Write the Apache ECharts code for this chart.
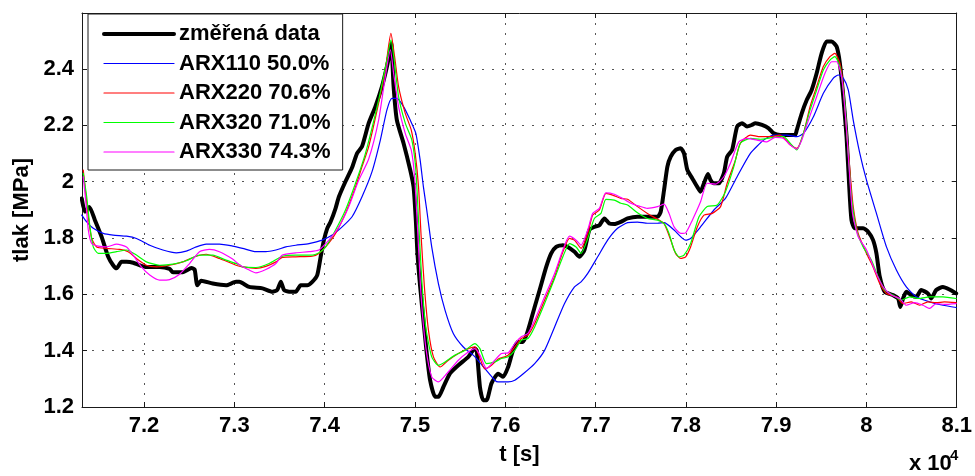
<!DOCTYPE html>
<html>
<head>
<meta charset="utf-8">
<script src="https://cdn.jsdelivr.net/npm/echarts@6/dist/echarts.min.js"></script>
<style>
  html, body { margin: 0; padding: 0; background: #fff; }
  #chart { width: 975px; height: 476px; }
</style>
</head>
<body>
<div id="chart"></div>
<script>
// Time axis in seconds, pressure in MPa
const T_MIN = 71313;
const T_MAX = 81000;
const P_MIN = 1.2;
const P_MAX = 2.598;

const xTicks = [72000, 73000, 74000, 75000, 76000, 77000, 78000, 79000, 80000, 81000];
const yTicks = [1.2, 1.4, 1.6, 1.8, 2.0, 2.2, 2.4];

const seriesNames = ['změřená data', 'ARX110 50.0%', 'ARX220 70.6%', 'ARX320 71.0%', 'ARX330 74.3%'];

// measured pressure
const measured = [
  [71310,1.940],[71346,1.893],[71394,1.910],[71456,1.863],[71530,1.804],[71603,1.733],[71658,1.703],
  [71696,1.692],[71751,1.715],[71806,1.715],[71879,1.712],[71953,1.703],[72026,1.697],[72173,1.697],
  [72283,1.690],[72320,1.678],[72430,1.678],[72526,1.693],[72560,1.688],[72590,1.632],[72633,1.648],
  [72761,1.638],[72908,1.632],[73019,1.644],[73055,1.644],[73165,1.626],[73312,1.621],[73422,1.609],
  [73474,1.615],[73515,1.644],[73551,1.615],[73606,1.609],[73680,1.609],[73735,1.632],[73808,1.632],
  [73863,1.644],[73918,1.668],[73956,1.733],[73992,1.792],[74029,1.834],[74066,1.857],[74121,1.905],
  [74158,1.946],[74231,2.000],[74304,2.050],[74359,2.100],[74414,2.124],[74488,2.207],[74562,2.266],
  [74635,2.337],[74690,2.408],[74728,2.470],[74738,2.490],[74764,2.337],[74800,2.218],[74874,2.136],
  [74948,2.041],[74985,1.981],[75010,1.863],[75028,1.745],[75058,1.626],[75094,1.508],[75131,1.390],
  [75168,1.295],[75224,1.236],[75260,1.236],[75315,1.271],[75389,1.319],[75481,1.348],[75591,1.378],
  [75665,1.407],[75685,1.400],[75720,1.271],[75756,1.224],[75793,1.224],[75848,1.284],[75922,1.318],
  [75977,1.307],[76032,1.342],[76087,1.401],[76142,1.431],[76197,1.431],[76252,1.472],[76326,1.555],
  [76381,1.615],[76454,1.697],[76509,1.745],[76564,1.768],[76638,1.774],[76693,1.768],[76767,1.751],
  [76822,1.733],[76877,1.757],[76932,1.828],[76987,1.839],[77043,1.845],[77098,1.869],[77153,1.851],
  [77208,1.849],[77281,1.857],[77355,1.869],[77465,1.875],[77575,1.875],[77686,1.875],[77722,1.893],
  [77759,1.970],[77796,2.053],[77833,2.088],[77887,2.112],[77943,2.118],[77980,2.100],[78017,2.041],
  [78072,2.011],[78127,1.981],[78163,1.964],[78201,1.994],[78245,2.027],[78274,2.005],[78311,1.994],
  [78366,1.994],[78421,2.029],[78458,2.088],[78513,2.112],[78568,2.195],[78623,2.207],[78678,2.195],
  [78733,2.201],[78770,2.207],[78844,2.201],[78918,2.189],[78973,2.171],[79045,2.165],[79155,2.165],
  [79210,2.165],[79229,2.183],[79284,2.242],[79339,2.289],[79394,2.325],[79449,2.384],[79504,2.455],
  [79560,2.497],[79615,2.497],[79670,2.479],[79706,2.420],[79744,2.301],[79780,2.159],[79810,1.981],
  [79835,1.863],[79872,1.834],[79964,1.834],[80019,1.822],[80074,1.792],[80111,1.745],[80148,1.662],
  [80203,1.609],[80295,1.597],[80351,1.585],[80376,1.555],[80406,1.585],[80442,1.609],[80497,1.597],
  [80552,1.591],[80607,1.615],[80681,1.603],[80718,1.585],[80773,1.615],[80847,1.626],[80920,1.617],
  [80994,1.603]
];

// ARX110 model output
const arx110 = [
  [71310,1.881],[71365,1.857],[71438,1.834],[71548,1.816],[71658,1.810],[71806,1.806],[71916,1.798],
  [72063,1.774],[72209,1.757],[72357,1.747],[72467,1.753],[72578,1.768],[72688,1.778],[72835,1.778],
  [72981,1.771],[73091,1.763],[73239,1.751],[73349,1.751],[73460,1.757],[73570,1.768],[73680,1.774],
  [73827,1.780],[73973,1.792],[74084,1.810],[74194,1.839],[74304,1.875],[74414,1.946],[74525,2.035],
  [74617,2.147],[74690,2.254],[74745,2.295],[74800,2.295],[74874,2.266],[74948,2.218],[75010,2.171],
  [75058,2.076],[75094,1.981],[75131,1.899],[75186,1.768],[75260,1.638],[75334,1.543],[75425,1.461],
  [75536,1.413],[75665,1.378],[75775,1.336],[75885,1.295],[75922,1.289],[76032,1.289],[76106,1.295],
  [76200,1.318],[76326,1.354],[76436,1.401],[76547,1.484],[76657,1.567],[76767,1.626],[76840,1.644],
  [76914,1.674],[77024,1.733],[77134,1.792],[77244,1.834],[77355,1.854],[77465,1.856],[77575,1.852],
  [77686,1.852],[77759,1.854],[77870,1.828],[77998,1.792],[78053,1.798],[78163,1.839],[78311,1.899],
  [78439,1.940],[78568,2.017],[78715,2.100],[78862,2.147],[78973,2.165],[79119,2.165],[79229,2.159],
  [79303,2.171],[79413,2.230],[79523,2.313],[79634,2.367],[79689,2.378],[79744,2.367],[79799,2.325],
  [79854,2.218],[79927,2.100],[80001,2.005],[80111,1.887],[80222,1.768],[80332,1.686],[80442,1.626],
  [80552,1.591],[80700,1.573],[80847,1.561],[80994,1.553]
];

// ARX220 model output
const arx220 = [
  [71327,2.041],[71346,1.981],[71383,1.875],[71420,1.798],[71475,1.768],[71585,1.763],[71732,1.759],
  [71824,1.751],[71916,1.727],[72026,1.703],[72137,1.697],[72283,1.703],[72430,1.715],[72578,1.735],
  [72688,1.742],[72835,1.727],[73019,1.703],[73091,1.697],[73239,1.692],[73349,1.699],[73460,1.715],
  [73532,1.731],[73680,1.733],[73863,1.735],[73936,1.745],[74011,1.768],[74121,1.816],[74231,1.887],
  [74342,1.981],[74414,2.053],[74488,2.124],[74598,2.278],[74672,2.396],[74734,2.526],[74775,2.443],
  [74819,2.337],[74893,2.242],[74959,2.183],[75003,2.100],[75040,1.981],[75069,1.804],[75105,1.626],
  [75150,1.472],[75205,1.378],[75279,1.342],[75370,1.366],[75481,1.390],[75591,1.407],[75665,1.413],
  [75701,1.390],[75775,1.335],[75848,1.348],[75922,1.370],[76032,1.384],[76106,1.413],[76178,1.443],
  [76252,1.455],[76326,1.496],[76436,1.579],[76547,1.662],[76619,1.733],[76712,1.798],[76767,1.792],
  [76840,1.763],[76914,1.816],[76969,1.881],[77043,1.899],[77115,1.958],[77189,1.952],[77281,1.940],
  [77355,1.937],[77465,1.911],[77575,1.887],[77686,1.866],[77759,1.851],[77833,1.792],[77887,1.745],
  [77943,1.727],[77998,1.733],[78053,1.768],[78127,1.839],[78201,1.881],[78293,1.887],[78385,1.911],
  [78458,1.994],[78549,2.076],[78604,2.136],[78715,2.165],[78825,2.159],[78935,2.159],[79045,2.165],
  [79155,2.130],[79229,2.118],[79303,2.171],[79376,2.266],[79449,2.337],[79523,2.408],[79596,2.443],
  [79651,2.455],[79706,2.420],[79744,2.337],[79780,2.183],[79817,2.041],[79854,1.911],[79909,1.816],
  [80001,1.745],[80074,1.697],[80148,1.638],[80222,1.603],[80332,1.591],[80406,1.567],[80497,1.573],
  [80589,1.561],[80681,1.573],[80773,1.570],[80865,1.573],[80994,1.570]
];

// ARX320 model output
const arx320 = [
  [71327,2.029],[71365,1.946],[71401,1.839],[71438,1.768],[71493,1.745],[71585,1.745],[71696,1.751],
  [71806,1.757],[71916,1.739],[72026,1.715],[72173,1.703],[72320,1.707],[72467,1.719],[72614,1.739],
  [72761,1.739],[72908,1.721],[73055,1.705],[73091,1.697],[73239,1.695],[73386,1.709],[73532,1.735],
  [73680,1.739],[73863,1.739],[73956,1.751],[74011,1.768],[74121,1.828],[74231,1.899],[74342,1.994],
  [74452,2.100],[74598,2.289],[74690,2.431],[74734,2.503],[74775,2.420],[74819,2.301],[74893,2.207],
  [74966,2.147],[75010,2.041],[75040,1.863],[75076,1.650],[75120,1.484],[75186,1.378],[75260,1.348],
  [75334,1.360],[75444,1.384],[75555,1.401],[75665,1.425],[75720,1.407],[75793,1.354],[75885,1.360],
  [75958,1.372],[76032,1.378],[76106,1.401],[76178,1.437],[76252,1.443],[76326,1.484],[76436,1.567],
  [76547,1.656],[76638,1.733],[76712,1.780],[76785,1.768],[76840,1.745],[76914,1.798],[76987,1.869],
  [77060,1.887],[77115,1.937],[77208,1.934],[77281,1.923],[77355,1.917],[77465,1.889],[77575,1.869],
  [77686,1.863],[77759,1.851],[77814,1.816],[77870,1.757],[77925,1.733],[77980,1.739],[78053,1.780],
  [78146,1.875],[78237,1.911],[78348,1.917],[78439,1.964],[78532,2.053],[78604,2.136],[78715,2.153],
  [78825,2.150],[78973,2.157],[79082,2.159],[79155,2.136],[79229,2.112],[79303,2.171],[79376,2.254],
  [79449,2.325],[79523,2.396],[79596,2.431],[79651,2.443],[79706,2.408],[79761,2.278],[79799,2.100],
  [79835,1.946],[79891,1.828],[79964,1.768],[80056,1.721],[80129,1.662],[80203,1.615],[80295,1.597],
  [80387,1.579],[80479,1.591],[80589,1.585],[80700,1.591],[80847,1.591],[80994,1.585]
];

// ARX330 model output
const arx330 = [
  [71327,2.017],[71357,1.923],[71383,1.828],[71420,1.780],[71493,1.771],[71585,1.768],[71696,1.778],
  [71806,1.768],[71879,1.739],[71971,1.697],[72063,1.668],[72173,1.650],[72283,1.652],[72394,1.671],
  [72504,1.709],[72614,1.751],[72724,1.759],[72835,1.751],[72981,1.725],[73055,1.705],[73165,1.686],
  [73239,1.676],[73349,1.688],[73460,1.709],[73532,1.739],[73680,1.747],[73827,1.751],[73936,1.757],
  [74047,1.792],[74158,1.839],[74268,1.911],[74378,2.005],[74488,2.080],[74598,2.218],[74672,2.372],
  [74728,2.467],[74764,2.384],[74819,2.266],[74893,2.171],[74959,2.112],[74996,2.017],[75032,1.816],
  [75069,1.591],[75120,1.413],[75186,1.307],[75260,1.289],[75352,1.318],[75481,1.366],[75591,1.395],
  [75665,1.407],[75720,1.384],[75793,1.336],[75885,1.366],[75958,1.390],[76032,1.392],[76106,1.425],
  [76178,1.449],[76252,1.461],[76326,1.508],[76436,1.591],[76547,1.674],[76638,1.757],[76712,1.806],
  [76785,1.792],[76840,1.774],[76914,1.828],[76969,1.887],[77043,1.905],[77115,1.960],[77208,1.955],
  [77300,1.940],[77391,1.923],[77483,1.913],[77575,1.905],[77686,1.911],[77759,1.920],[77814,1.887],
  [77870,1.839],[77943,1.816],[77998,1.818],[78072,1.863],[78163,1.928],[78237,1.994],[78329,1.991],
  [78421,2.017],[78494,2.065],[78587,2.141],[78678,2.153],[78789,2.147],[78899,2.141],[78990,2.157],
  [79082,2.153],[79155,2.130],[79229,2.115],[79284,2.147],[79358,2.218],[79449,2.301],[79541,2.384],
  [79615,2.425],[79670,2.425],[79725,2.372],[79772,2.218],[79810,2.041],[79846,1.887],[79909,1.804],
  [80001,1.757],[80092,1.686],[80185,1.626],[80277,1.597],[80368,1.585],[80442,1.561],[80534,1.570],
  [80626,1.561],[80700,1.550],[80773,1.567],[80865,1.564],[80994,1.567]
];

const FONT = '"Liberation Sans", Arial, Helvetica, sans-serif';
const INK = '#1a1a1a';

const seriesColors = ['#000000', '#0000ff', '#ff0000', '#00ff00', '#ff00ff'];
const seriesWidths = [4, 1.2, 1.2, 1.2, 1.2];

const tickFmt = v => String(+(v / 10000).toFixed(1));

function frameAxis(extra) {
  return Object.assign({
    type: 'value',
    axisLine: { show: true, onZero: false, lineStyle: { color: INK, width: 1 } },
    axisTick: { show: true, inside: true, length: 5, lineStyle: { color: INK, width: 1 } },
    axisLabel: { show: false },
    splitLine: { show: false }
  }, extra);
}

const chart = echarts.init(document.getElementById('chart'), null, { renderer: 'canvas' });

const lineSeries = (i, data) => ({
  name: seriesNames[i], type: 'line', data,
  xAxisIndex: 0, yAxisIndex: 0,
  symbol: 'none', showSymbol: false,
  smooth: 0.2,
  z: 2 + i,
  lineStyle: { color: seriesColors[i], width: seriesWidths[i], join: 'round', cap: 'round' },
  itemStyle: { color: seriesColors[i] },
  emphasis: { disabled: true }
});

chart.setOption({
  animation: false,
  backgroundColor: '#ffffff',
  textStyle: { fontFamily: FONT },
  grid: { left: 82, right: 15, top: 13, bottom: 69, containLabel: false },
  legend: {
    orient: 'vertical',
    left: 88, top: 14,
    padding: [9, 12, 7, 14],
    itemGap: 7.5,
    itemWidth: 70,
    itemHeight: 14,
    selectedMode: false,
    backgroundColor: '#ffffff',
    borderColor: INK,
    borderWidth: 1,
    borderRadius: 0,
    // legend keys are plain line samples, no marker
    itemStyle: { opacity: 0, color: 'transparent', borderColor: 'transparent', borderWidth: 0 },
    textStyle: { fontSize: 22, lineHeight: 22, fontWeight: 'bold', color: '#000', fontFamily: FONT },
    data: seriesNames.map((name, i) => ({
      name,
      lineStyle: { color: seriesColors[i], width: seriesWidths[i] }
    }))
  },
  xAxis: [
    frameAxis({
      min: T_MIN, max: T_MAX, position: 'bottom',
      axisTick: { show: true, inside: true, length: 5, customValues: xTicks, lineStyle: { color: INK, width: 1 } },
      axisLabel: {
        show: true, customValues: xTicks, formatter: tickFmt,
        fontSize: 22, fontWeight: 'bold', color: '#000', margin: 8, fontFamily: FONT
      },
      splitLine: { show: true, lineStyle: { type: [2, 8], color: '#555', width: 1 } },
      name: 't [s]', nameLocation: 'middle', nameGap: 37,
      nameTextStyle: { fontSize: 22, fontWeight: 'bold', color: '#000', fontFamily: FONT }
    }),
    frameAxis({
      min: T_MIN, max: T_MAX, position: 'top',
      axisTick: { show: true, inside: true, length: 5, customValues: xTicks, lineStyle: { color: INK, width: 1 } }
    })
  ],
  yAxis: [
    frameAxis({
      min: P_MIN, max: P_MAX, position: 'left',
      axisTick: { show: true, inside: true, length: 5, customValues: yTicks, lineStyle: { color: INK, width: 1 } },
      axisLabel: {
        show: true, customValues: yTicks, formatter: v => String(+v.toFixed(1)),
        fontSize: 22, fontWeight: 'bold', color: '#000', margin: 8, fontFamily: FONT
      },
      splitLine: { show: true, lineStyle: { type: [2, 8], color: '#555', width: 1 } },
      name: 'tlak [MPa]', nameLocation: 'middle', nameGap: 49,
      nameTextStyle: { fontSize: 22, fontWeight: 'bold', color: '#000', fontFamily: FONT }
    }),
    frameAxis({
      min: P_MIN, max: P_MAX, position: 'right',
      axisTick: { show: true, inside: true, length: 5, customValues: yTicks, lineStyle: { color: INK, width: 1 } }
    })
  ],
  graphic: [
    { type: 'text', left: 909, top: 453,
      style: { text: 'x 10', font: 'bold 22px ' + FONT, fill: '#000' } },
    { type: 'text', left: 950, top: 448,
      style: { text: '4', font: 'bold 15px ' + FONT, fill: '#000' } }
  ],
  series: [
    lineSeries(0, measured),
    lineSeries(1, arx110),
    lineSeries(2, arx220),
    lineSeries(3, arx320),
    lineSeries(4, arx330)
  ]
});
</script>
</body>
</html>
